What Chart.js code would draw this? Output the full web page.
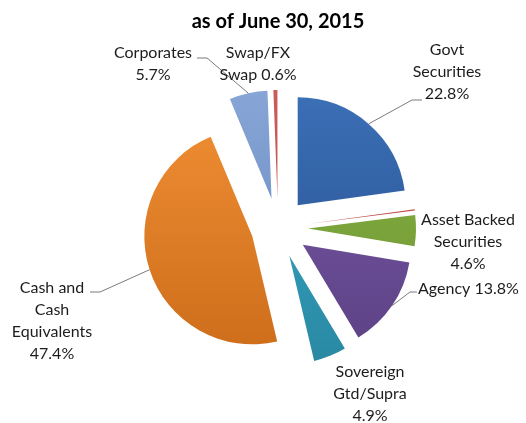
<!DOCTYPE html>
<html>
<head>
<meta charset="utf-8">
<script src="https://cdn.jsdelivr.net/npm/chart.js@4.4.1/dist/chart.umd.min.js"></script>
<style>
  html, body { margin: 0; padding: 0; background: #fff; }
  #wrap { width: 526px; height: 423px; }
</style>
</head>
<body>
<div id="wrap"><canvas id="pie" width="526" height="423"></canvas></div>
<script>
// Portfolio composition, as of June 30, 2015 (% of total)
const categories = ['Govt Securities', 'Other', 'Asset Backed Securities', 'Agency',
  'Sovereign Gtd/Supra', 'Cash and Cash Equivalents', 'Corporates', 'Swap/FX Swap'];
const shares = [22.8, 0.2, 4.6, 13.8, 4.9, 47.4, 5.7, 0.6];
// how each name is broken over lines on the chart, {v} = share
const labelText = ['Govt\nSecurities\n{v}', '', 'Asset Backed\nSecurities\n{v}', 'Agency {v}',
  'Sovereign\nGtd/Supra\n{v}', 'Cash and\nCash\nEquivalents\n{v}', 'Corporates\n{v}', 'Swap/FX\nSwap {v}'];
const chartTitle = 'as of June 30, 2015';

// --- styling ---
const topColors    = ['#3c71b9', '#c4504c', '#88b245', '#7858a5', '#38a8c6', '#ef8e33', '#89a8d8', '#cc5d5a'];
const bottomColors = ['#28528f', '#b8463f', '#6c9430', '#5a4083', '#2886a0', '#cc6c1a', '#6a88bf', '#bb4a46'];
const explodePx = [30, 30, 30, 30, 30, 27, 30, 30];   // how far each slice is pulled out
const RADIUS = 108;
const FONT = 'Lato, "Open Sans", sans-serif';
const LINE_H = 22;
// label block: x, y of first line (relative to pie centre), text align
const labelPos = [
  [169, -178, 'center'], null, [190, -8, 'center'], [140, 61, 'left'],
  [92, 144, 'center'], [-226, 60, 'center'], [-125, -175, 'center'], [-20, -175, 'center'],
];
// leader lines: elbow + end of short tick, relative to pie centre
const leaders = [
  [134, -128, 144, -128], null, null, [132, 64, 139, 64],
  null, [-178, 64, -188, 64], [-71, -170, -81, -170], null,
];

function sliceFill(c) {
  const i = c.dataIndex;
  const chart = c.chart;
  const area = chart.chartArea;
  if (!area) return topColors[i];
  const cy = (area.top + area.bottom) / 2;
  const g = chart.ctx.createLinearGradient(0, cy - RADIUS - 20, 0, cy + RADIUS + 20);
  g.addColorStop(0, topColors[i]);
  g.addColorStop(1, bottomColors[i]);
  return g;
}

// pull every slice straight out along its middle angle (chart.js's own
// offset option also widens the radius and trims the angle)
const explodeSlices = {
  id: 'explodeSlices',
  beforeDatasetDraw(chart, args) {
    const ctx = chart.ctx;
    args.meta.data.forEach((arc, i) => {
      const mid = (arc.startAngle + arc.endAngle) / 2;
      ctx.save();
      ctx.translate(Math.cos(mid) * explodePx[i], Math.sin(mid) * explodePx[i]);
      arc.draw(ctx);
      ctx.restore();
    });
    return false;
  }
};

const sliceLabels = {
  id: 'sliceLabels',
  afterDraw(chart) {
    const ctx = chart.ctx;
    const arcs = chart.getDatasetMeta(0).data;
    const cx = arcs[0].x, cy = arcs[0].y;
    ctx.save();
    ctx.fillStyle = '#000';
    ctx.font = 'bold 20px ' + FONT;
    ctx.textAlign = 'center';
    ctx.textBaseline = 'alphabetic';
    ctx.fillText(chartTitle, cx, 28);

    ctx.font = '16px ' + FONT;
    ctx.textBaseline = 'middle';
    arcs.forEach((arc, i) => {
      const lp = labelPos[i];
      if (!lp) return;
      const lines = labelText[i].replace('{v}', shares[i].toFixed(1) + '%').split('\n');
      ctx.fillStyle = '#1c1c1c';
      ctx.textAlign = lp[2];
      lines.forEach((t, k) => ctx.fillText(t, cx + lp[0], cy + lp[1] + k * LINE_H));

      const ld = leaders[i];
      if (!ld) return;
      const mid = (arc.startAngle + arc.endAngle) / 2;
      const sx = cx + Math.cos(mid) * (arc.outerRadius + explodePx[i]);
      const sy = cy + Math.sin(mid) * (arc.outerRadius + explodePx[i]);
      ctx.strokeStyle = '#7a7a7a';
      ctx.lineWidth = 1;
      ctx.beginPath();
      ctx.moveTo(sx, sy);
      ctx.lineTo(cx + ld[0], cy + ld[1]);
      ctx.lineTo(cx + ld[2], cy + ld[3]);
      ctx.stroke();
    });
    ctx.restore();
  }
};

new Chart(document.getElementById('pie'), {
  type: 'pie',
  data: {
    labels: categories,
    datasets: [{
      data: shares,
      backgroundColor: sliceFill,
      borderWidth: 0,
      hoverOffset: 0,
    }],
  },
  options: {
    responsive: false,
    animation: false,
    events: [],
    radius: RADIUS,
    layout: { padding: { left: 30, right: 0, top: 33, bottom: 0 } },
    plugins: {
      legend: { display: false },
      tooltip: { enabled: false },
      title: { display: false },
    },
  },
  plugins: [explodeSlices, sliceLabels],
});
</script>
</body>
</html>
